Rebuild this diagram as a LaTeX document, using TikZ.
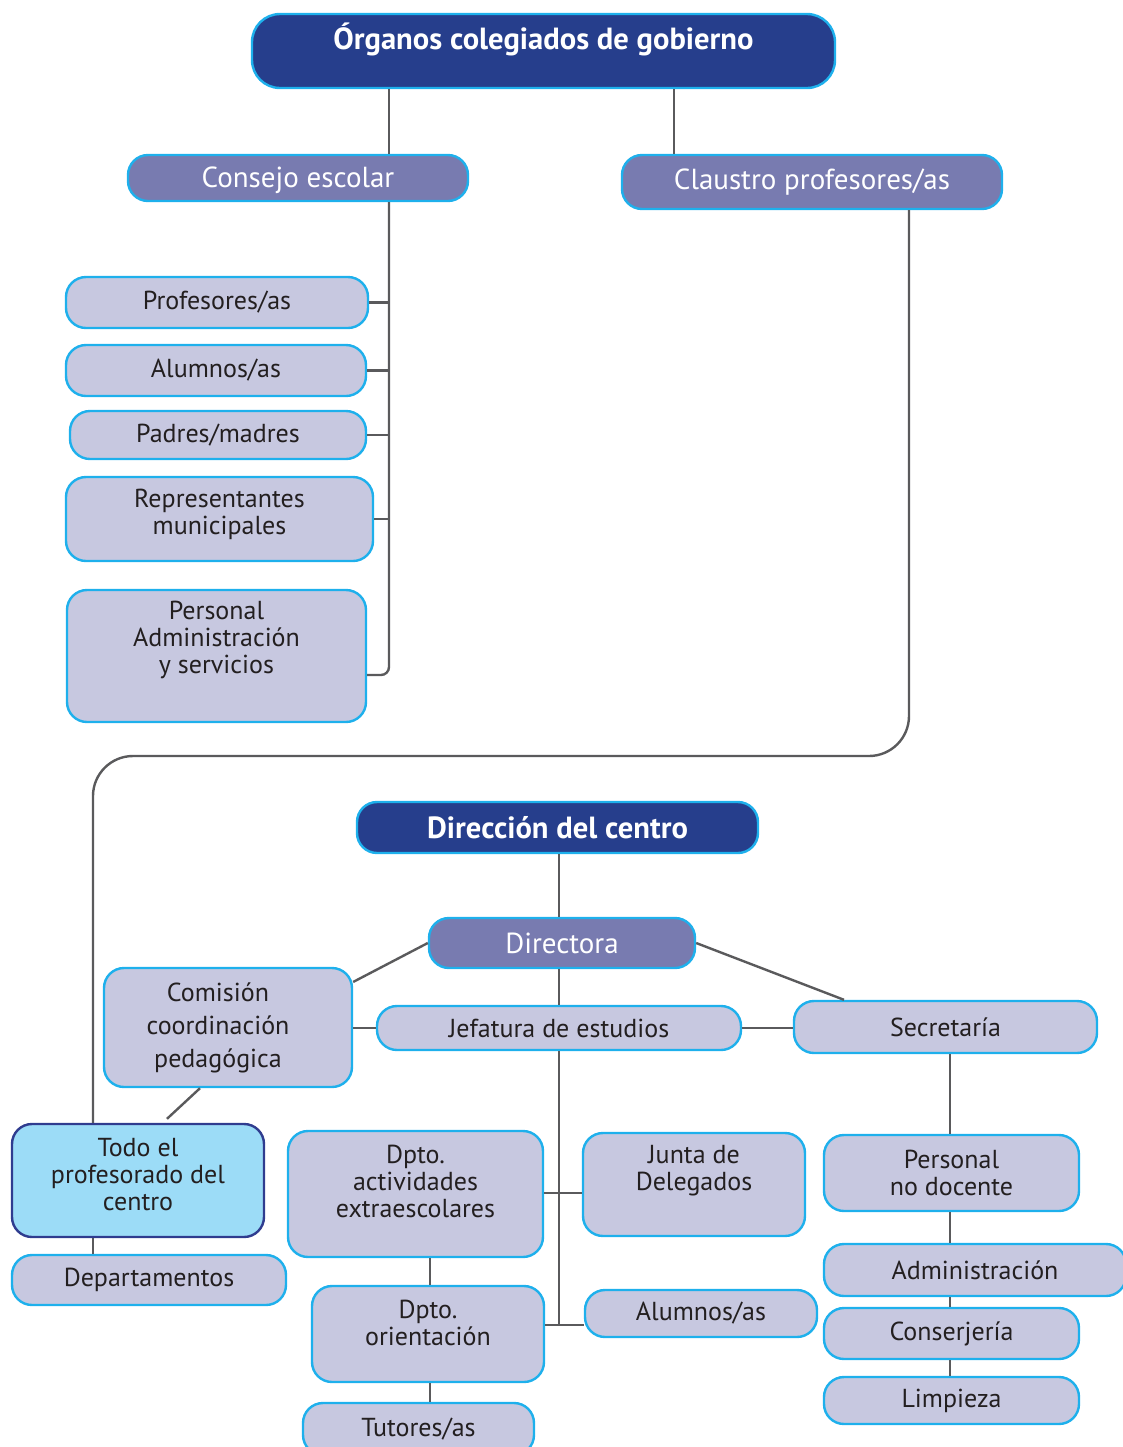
\documentclass[tikz,border=0pt]{standalone}
\usepackage{fontspec}
\setmainfont{PT Sans}

\definecolor{navy}{HTML}{263E8C}
\definecolor{lilac}{HTML}{787BB0}
\definecolor{pale}{HTML}{C7C8E0}
\definecolor{rim}{HTML}{1EB0EC}
\definecolor{sky}{HTML}{9CDCF7}
\definecolor{deep}{HTML}{2F3C8F}
\definecolor{wire}{HTML}{5A5A5C}
\definecolor{ink}{HTML}{231F20}

\tikzset{
    box/.style={draw=rim, line width=1.2pt, rounded corners=10pt, inner sep=0pt, align=center},
    sz/.style 2 args={minimum width=#1*0.5pt, minimum height=#2*0.5pt},
    head/.style={box, fill=navy, text=white, font=\bfseries\fontsize{15.3}{17}\selectfont},
    sub/.style={box, fill=lilac, text=white, font=\fontsize{14.5}{16}\selectfont},
    item/.style={box, fill=pale, text=ink, font=\fontsize{13}{13.5}\selectfont},
    lbl/.style={inner sep=0pt, align=center, text=ink, font=\fontsize{13}{13.5}\selectfont},
    conn/.style={draw=wire, line width=1.2pt}
}

\begin{document}
\begin{tikzpicture}[x=0.5pt, y=-0.5pt]
    \useasboundingbox (0,0) rectangle (1123,1447);

    % spines
    \coordinate (csp) at (389,0);
    \coordinate (osp) at (674,0);
    \coordinate (lsp) at (909,0);
    \coordinate (bend) at (93,756);
    \coordinate (dsp) at (559,0);
    \coordinate (asp) at (430,0);
    \coordinate (ssp) at (950,0);
    \coordinate (t1) at (559,1193);
    \coordinate (t2) at (559,1325);

    % organos colegiados
    \node[head, sz={583}{74}, rounded corners=14pt,
        label={[lbl, text=white, font=\bfseries\fontsize{15.3}{17}\selectfont, yshift=6pt]center:Órganos colegiados de gobierno}]
        (org) at (543.5,51) {};
    \node[sub, sz={340}{46}, label={[lbl, text=white, font=\fontsize{14.5}{16}\selectfont, yshift=-1pt]center:Consejo escolar}]
        (cons) at (298,178) {};
    \node[sub, sz={380}{54}]   (claus) at (812,182)   {Claustro profesores/as};
    \node[item, sz={302}{51}]  (prof)  at (217,302.5) {Profesores/as};
    \node[item, sz={300}{51}]  (alu1)  at (216,370.5) {Alumnos/as};
    \node[item, sz={296}{48}]  (pad)   at (218,435)   {Padres/madres};
    \node[item, sz={307}{84}, label={[lbl, yshift=2.5pt]center:Representantes\\municipales}]
        (rep) at (219.5,519) {};
    \node[item, sz={299}{132}, label={[lbl, yshift=8pt]center:Personal\\Administración\\y servicios}]
        (pas) at (216.5,656) {};

    % direccion
    \node[head, sz={401}{51}]  (dirc)  at (557.5,827.5) {Dirección del centro};
    \node[sub, sz={266}{50}]   (dir)   at (562,943)     {Directora};
    \node[item, sz={248}{119}, label={[lbl, font=\fontsize{13}{16.5}\selectfont, xshift=-5pt, yshift=0pt]center:Comisión\\coordinación\\pedagógica}]
        (com) at (228,1027.5) {};
    \node[item, sz={364}{44}]  (jef)   at (559,1028)    {Jefatura de estudios};
    \node[item, sz={303}{52}]  (sec)   at (945.5,1027)  {Secretaría};
    \node[item, sz={252}{113}, fill=sky, draw=deep, label={[lbl, yshift=3pt]center:Todo el\\profesorado del\\centro}]
        (todo) at (138,1180.5) {};
    \node[item, sz={274}{50}]  (dep)   at (149,1280)    {Departamentos};
    \node[item, sz={255}{126}, label={[lbl, yshift=6.5pt]center:Dpto.\\actividades\\extraescolares}]
        (act) at (415.5,1194) {};
    \node[item, sz={232}{96}, label={[lbl, yshift=5.5pt]center:Dpto.\\orientación}]
        (ori) at (428,1334) {};
    \node[item, sz={231}{52}]  (tut)   at (418.5,1429)  {Tutores/as};
    \node[item, sz={222}{103}, label={[lbl, yshift=7pt]center:Junta de\\Delegados}]
        (jun) at (694,1184.5) {};
    \node[item, sz={232}{47}]  (alu2)  at (701,1313.5)  {Alumnos/as};
    \node[item, sz={255}{76}]  (pnd)   at (951.5,1173)  {Personal\\no docente};
    \node[item, sz={302}{52}]  (adm)   at (975,1270)    {Administración};
    \node[item, sz={255}{51}]  (con)   at (951.5,1333.5) {Conserjería};
    \node[item, sz={255}{47}]  (lim)   at (951.5,1400.5) {Limpieza};

    % connectors
    \draw[conn] (org.south -| csp) -- (cons.north -| csp);
    \draw[conn] (org.south -| osp) -- (claus.north -| osp);
    \draw[conn, rounded corners=4pt] (cons.south -| csp) |- ([yshift=-9.5pt]pas.east);
    \foreach \n in {prof,alu1,pad,rep}
        \draw[conn] (\n.east) -- (\n.east -| csp);
    \draw[conn, rounded corners=20pt] (claus.south -| lsp) |- (bend) -- (todo.north -| bend);

    \draw[conn] (dirc.south -| dsp) -- (dir.north -| dsp);
    \draw[conn] (dir.south -| dsp) -- (jef.north -| dsp);
    \draw[conn] (jef.south -| dsp) -- (t2);
    \draw[conn] (t1 -| act.east) -- (t1 -| jun.west);
    \draw[conn] (t2 -| ori.east) -- (t2 -| alu2.west);
    \draw[conn] (dir.west) -- (com.20);
    \draw[conn] (dir.east) -- (sec.165);
    \draw[conn] (jef.west) -- (jef.west -| com.east);
    \draw[conn] (jef.east) -- (jef.east -| sec.west);
    \draw[conn] ([xshift=-14pt]com.south) -- ([xshift=14.5pt,yshift=2pt]todo.north);
    \draw[conn] (todo.south -| bend) -- (dep.north -| bend);
    \draw[conn] (act.south -| asp) -- (ori.north -| asp);
    \draw[conn] (ori.south -| asp) -- (tut.north -| asp);
    \foreach \a/\b in {sec/pnd,pnd/adm,adm/con,con/lim}
        \draw[conn] (\a.south -| ssp) -- (\b.north -| ssp);
\end{tikzpicture}
\end{document}
